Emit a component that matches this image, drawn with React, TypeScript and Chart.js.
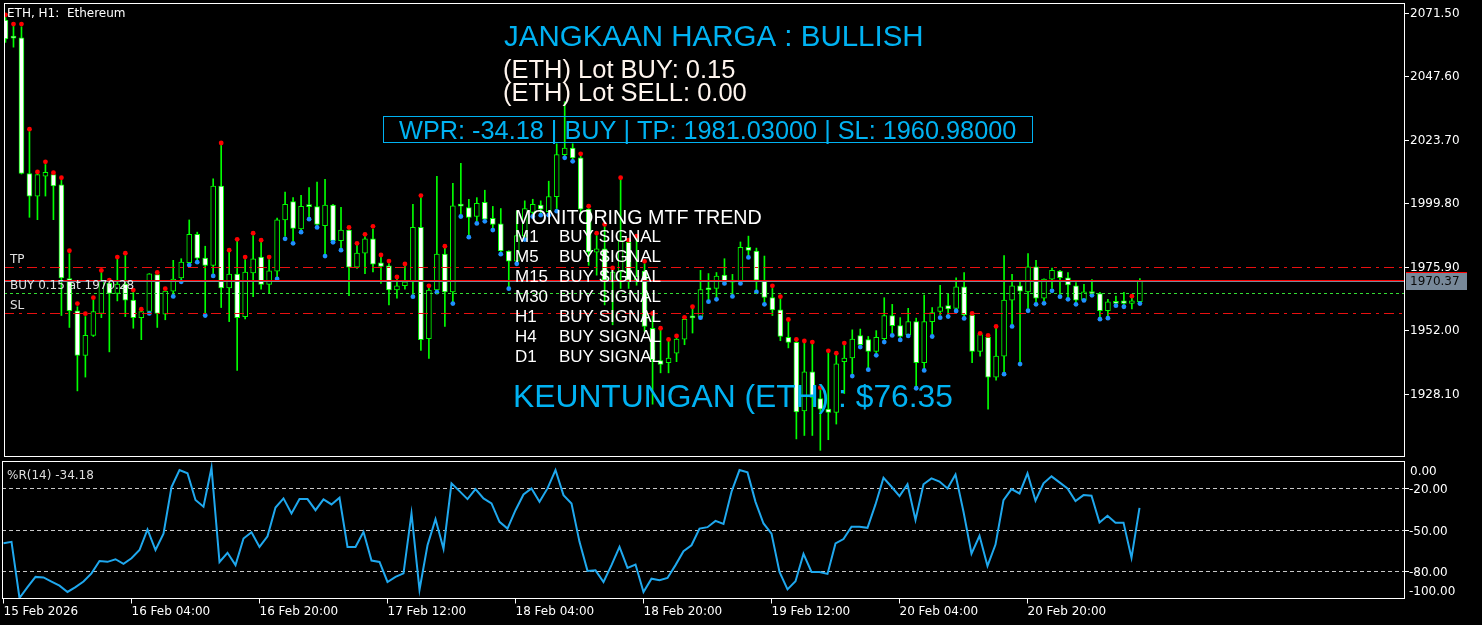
import React, { useEffect, useRef } from "react";
import { Chart, registerables } from "chart.js";
Chart.register(...registerables);

// ---------- DATA ----------
const timeTickBars = [0, 16, 32, 48, 64, 80, 96, 112, 128];
const timeTickLabels = ["15 Feb 2026", "16 Feb 04:00", "16 Feb 20:00", "17 Feb 12:00", "18 Feb 04:00", "18 Feb 20:00", "19 Feb 12:00", "20 Feb 04:00", "20 Feb 20:00"];

const opens = [
  2068.8, 2062.1, 2062.1, 2011.0, 2002.5, 2010.0, 2010.6, 2006.7, 1971.4, 1959.3,
  1942.5, 1950.0, 1958.3, 1969.6, 1965.8, 1969.3, 1963.3, 1956.7, 1959.0, 1972.9,
  1958.0, 1966.7, 1971.7, 1977.4, 1988.1, 1979.1, 1976.4, 2006.3, 1967.9, 1973.1,
  1957.1, 1973.5, 1979.5, 1969.2, 1974.2, 1993.5, 2000.4, 1990.1, 1998.6, 1998.5,
  1991.3, 1999.1, 1985.7, 1989.7, 1975.7, 1981.0, 1986.4, 1977.3, 1976.2, 1967.1,
  1968.7, 1970.2, 1990.7, 1948.8, 1967.1, 1980.6, 1966.4, 1998.8, 1998.2, 1994.8,
  2000.1, 1994.1, 1992.0, 1981.8, 1978.0, 1987.4, 1996.3, 1999.1, 1996.6, 2002.3,
  2018.1, 2020.6, 2016.9, 1997.6, 1981.4, 1982.6, 1970.2, 1973.9, 1985.1, 1970.8,
  1974.2, 1952.7, 1940.5, 1939.7, 1943.3, 1948.6, 1956.7, 1957.1, 1967.3, 1967.7,
  1972.7, 1970.2, 1970.2, 1983.2, 1981.8, 1970.8, 1964.3, 1959.6, 1949.3, 1947.4,
  1921.6, 1936.3, 1926.2, 1922.2, 1921.0, 1940.1, 1941.5, 1949.9, 1948.4, 1944.0,
  1948.8, 1957.5, 1953.7, 1950.3, 1955.2, 1939.7, 1955.2, 1959.0, 1961.2, 1960.2,
  1968.3, 1957.7, 1944.0, 1949.3, 1934.3, 1942.2, 1963.3, 1968.7, 1966.4, 1975.8,
  1964.0, 1971.2, 1974.2, 1971.7, 1968.7, 1963.3, 1966.4, 1965.8, 1959.3, 1962.7,
  1963.0, 1962.1, 1962.7,
];
const highs = [
  2069.8, 2066.7, 2066.3, 2026.8, 2010.8, 2014.4, 2010.8, 2008.4, 1980.8, 1960.8,
  1957.1, 1963.3, 1973.7, 1969.9, 1978.9, 1980.1, 1966.2, 1959.2, 1973.3, 1973.0,
  1966.8, 1978.3, 1978.9, 1993.5, 1988.9, 1983.6, 2009.0, 2021.6, 1981.4, 1985.4,
  1978.6, 1987.6, 1985.1, 1978.6, 1994.2, 2004.0, 2001.9, 2002.8, 2005.7, 2007.8,
  2008.8, 1999.4, 1998.3, 1989.8, 1983.9, 1987.2, 1990.1, 1979.4, 1977.1, 1971.2,
  1976.0, 1999.4, 2001.9, 1967.9, 2009.9, 1982.9, 2007.3, 2014.8, 2001.3, 2001.9,
  2004.7, 1998.6, 1997.8, 1981.9, 1996.9, 2000.7, 2001.3, 2000.7, 2008.1, 2022.2,
  2038.0, 2022.2, 2017.5, 1997.8, 1987.6, 1991.0, 1974.5, 2008.5, 1985.2, 1986.6,
  1977.0, 1957.5, 1951.9, 1947.8, 1949.0, 1956.2, 1960.2, 1974.5, 1973.3, 1973.7,
  1978.9, 1973.0, 1985.2, 1987.4, 1982.9, 1979.9, 1967.7, 1963.7, 1955.2, 1947.8,
  1947.1, 1946.8, 1929.3, 1943.3, 1942.5, 1946.3, 1952.1, 1952.4, 1949.6, 1951.8,
  1964.2, 1961.7, 1956.7, 1960.2, 1956.5, 1965.2, 1960.5, 1968.9, 1965.8, 1971.7,
  1973.7, 1957.8, 1950.4, 1949.4, 1952.7, 1980.1, 1973.0, 1970.4, 1980.8, 1978.3,
  1971.3, 1975.4, 1974.5, 1973.7, 1969.9, 1969.2, 1971.0, 1966.2, 1963.6, 1964.8,
  1966.2, 1964.0, 1971.4,
];
const lows = [
  2060.4, 2058.6, 2010.8, 1994.5, 1993.6, 2002.5, 1993.6, 1957.5, 1953.0, 1929.1,
  1934.3, 1949.6, 1956.7, 1943.8, 1963.0, 1957.1, 1952.7, 1948.4, 1958.9, 1953.0,
  1955.9, 1965.2, 1970.8, 1977.0, 1978.3, 1958.3, 1973.3, 1960.5, 1955.2, 1936.8,
  1956.2, 1964.6, 1967.4, 1965.8, 1972.0, 1987.4, 1985.7, 1989.5, 1994.5, 1991.3,
  1980.8, 1985.6, 1982.9, 1965.0, 1975.2, 1973.3, 1973.9, 1969.6, 1961.5, 1964.0,
  1967.4, 1965.4, 1944.3, 1941.3, 1967.0, 1953.4, 1962.7, 1995.7, 1987.9, 1993.2,
  1993.7, 1990.6, 1981.4, 1968.3, 1977.6, 1987.0, 1995.7, 1996.2, 1996.1, 1997.8,
  2017.5, 2016.2, 1996.3, 1976.4, 1972.7, 1961.5, 1954.0, 1967.7, 1967.7, 1968.9,
  1951.5, 1924.1, 1935.9, 1935.9, 1940.1, 1946.5, 1950.9, 1957.0, 1963.3, 1964.2,
  1969.9, 1965.2, 1970.1, 1980.1, 1967.1, 1962.5, 1957.5, 1948.0, 1945.3, 1911.0,
  1912.3, 1912.3, 1906.7, 1910.7, 1916.6, 1928.1, 1935.6, 1946.4, 1937.8, 1943.4,
  1948.4, 1950.9, 1949.0, 1950.2, 1931.0, 1937.6, 1950.5, 1957.7, 1957.7, 1959.9,
  1957.1, 1939.7, 1942.2, 1922.2, 1933.1, 1936.3, 1954.2, 1940.1, 1960.2, 1962.5,
  1963.0, 1967.7, 1965.4, 1964.2, 1962.5, 1964.0, 1965.7, 1956.9, 1957.4, 1961.7,
  1961.7, 1960.0, 1962.6,
];
const closes = [
  2061.7, 2062.0, 2011.0, 2002.5, 2010.6, 2011.4, 2006.3, 1971.7, 1959.3, 1942.5,
  1950.0, 1959.0, 1970.4, 1965.8, 1969.3, 1963.3, 1956.7, 1959.0, 1973.2, 1958.3,
  1966.7, 1971.2, 1977.6, 1988.1, 1979.1, 1976.4, 2006.3, 1967.9, 1973.1, 1956.7,
  1973.9, 1978.9, 1969.2, 1974.3, 1993.5, 1999.4, 1990.3, 1998.6, 1998.5, 1991.8,
  1999.1, 1985.7, 1989.7, 1975.7, 1981.0, 1986.4, 1976.8, 1976.0, 1967.1, 1968.7,
  1970.2, 1990.7, 1948.4, 1967.1, 1980.6, 1966.4, 1998.8, 1998.7, 1994.5, 1999.8,
  1993.8, 1991.8, 1981.8, 1978.0, 1987.6, 1997.8, 1999.4, 1997.6, 2002.3, 2018.1,
  2020.6, 2016.9, 1997.6, 1981.4, 1982.6, 1970.8, 1973.9, 1985.7, 1970.8, 1972.4,
  1953.4, 1940.9, 1939.1, 1941.5, 1948.6, 1956.1, 1956.6, 1967.3, 1967.2, 1972.4,
  1970.2, 1970.1, 1983.2, 1982.0, 1970.8, 1964.3, 1959.6, 1949.6, 1947.4, 1921.2,
  1936.3, 1926.6, 1922.2, 1921.0, 1939.3, 1941.5, 1948.6, 1946.5, 1944.0, 1949.3,
  1957.5, 1953.7, 1949.6, 1955.2, 1939.7, 1955.2, 1958.6, 1960.8, 1960.0, 1968.3,
  1957.7, 1944.0, 1950.3, 1934.3, 1942.2, 1963.3, 1968.7, 1966.7, 1975.8, 1964.0,
  1971.2, 1974.5, 1971.8, 1969.0, 1963.3, 1966.4, 1965.8, 1959.3, 1962.7, 1962.1,
  1962.1, 1963.0, 1970.37,
];
const sarDots = [
  2070.8, 2067.3, 2067.3, 2027.7, 2011.6, 2015.4, 2011.3, 2009.4, 1981.9, 1962.0,
  1958.2, 1964.2, 1974.5, 1970.8, 1979.5, 1981.0, 1967.1, 1959.9, 1958.3, 1973.7,
  1967.6, 1964.7, 1970.2, 1976.5, 1977.6, 1957.5, 1972.4, 2022.5, 1982.1, 1986.2,
  1979.5, 1988.5, 1985.9, 1979.5, 1971.3, 1986.4, 1984.7, 1988.9, 1993.8, 1990.7,
  1979.9, 1985.1, 1982.1, 1990.7, 1984.7, 1988.1, 1991.1, 1980.3, 1978.0, 1972.0,
  1976.9, 1964.6, 2002.7, 1968.7, 1966.3, 1983.6, 1962.0, 1994.8, 1987.0, 1992.2,
  1993.0, 1989.7, 1980.6, 1967.6, 1977.0, 1986.1, 1994.8, 1995.3, 1995.3, 1996.8,
  2016.9, 2015.6, 2018.4, 1998.7, 1988.5, 1991.8, 1975.4, 2009.4, 1985.9, 1987.4,
  1977.9, 1958.3, 1952.7, 1948.5, 1949.8, 1956.8, 1960.8, 1956.7, 1962.7, 1963.6,
  1969.6, 1964.7, 1969.6, 1979.4, 1966.4, 1961.7, 1968.7, 1964.6, 1956.0, 1948.5,
  1947.9, 1947.5, 1930.3, 1944.2, 1943.3, 1947.1, 1934.7, 1945.6, 1937.1, 1942.5,
  1947.5, 1950.0, 1948.3, 1949.8, 1930.1, 1936.8, 1949.6, 1956.7, 1957.1, 1959.2,
  1956.4, 1958.3, 1950.8, 1950.0, 1953.4, 1935.4, 1953.4, 1939.2, 1959.3, 1961.7,
  1962.1, 1966.8, 1964.6, 1963.6, 1961.7, 1963.2, 1965.1, 1956.1, 1956.5, 1961.2,
  1960.8, 1964.8, 1962.0,
];
const wprValues = [
  -60, -59, -100, -92, -84.6, -85, -88, -91, -95.6, -92,
  -88, -82, -73, -73.6, -71.7, -75, -71, -65, -50, -65,
  -53, -19, -6.6, -9, -28.5, -33.4, -4.9, -73.7, -67, -76,
  -56.6, -52, -62.7, -55, -34, -27.3, -38.3, -27.8, -27.8, -35.9,
  -28, -31.7, -26.8, -62.7, -62.7, -51.7, -72.7, -73.7, -88.3, -84.6,
  -82, -38.3, -94, -61.5, -42.4, -64, -16.3, -22, -27.8, -20.5,
  -27.3, -31, -44.4, -49.3, -35.9, -24.4, -20, -29.8, -20, -6.6,
  -24.9, -31, -59, -80.2, -79.8, -88.3, -76, -62.7, -78, -75.6,
  -95.6, -85.9, -87, -85.4, -76, -65.9, -61.5, -49.3, -48.3, -43.7,
  -46, -22.4, -6.6, -8.3, -29.8, -45.6, -53, -81, -93.7, -87.8,
  -67.8, -81, -81, -82.4, -60.2, -57, -48, -48, -48.8, -31.7,
  -12.2, -18.8, -25.6, -17, -43, -17, -12.7, -15, -20, -9.8,
  -37, -67.6, -54.6, -76.6, -61, -28.5, -20.5, -23.7, -9, -29,
  -16.3, -11.2, -15.6, -20, -29.3, -24.9, -25.4, -44.9, -40, -45,
  -45, -70.7, -34.18,
];

const priceTicks = [2071.5, 2047.6, 2023.7, 1999.8, 1975.9, 1952.0, 1928.1];
const priceMin = 1904.57;
const priceMax = 2074.86;
const wprTicks = [0, -20, -50, -80, -100];
const wprLevels = [-20, -50, -80];
const barMin = -0.1875;
const barMax = 175.0625;

const tpLevel = 1975.6;
const entryLevel = 1965.8;
const slLevel = 1958.3;
const askPrice = 1970.95;
const bidPrice = 1970.37;

const symbolLabel = "ETH, H1:  Ethereum";
const wprLabel = "%R(14) -34.18";
const tpText = "TP";
const entryText = "BUY 0.15 at 1970.28";
const slText = "SL";
const headline = "JANGKAAN HARGA : BULLISH";
const lotBuyText = "(ETH) Lot BUY: 0.15";
const lotSellText = "(ETH) Lot SELL: 0.00";
const signalBoxText = "WPR: -34.18 | BUY | TP: 1981.03000 | SL: 1960.98000";
const mtfTitle = "MONITORING MTF TREND";
const mtfFrames = ["M1", "M5", "M15", "M30", "H1", "H4", "D1"];
const mtfSignals = ["BUY SIGNAL", "BUY SIGNAL", "BUY SIGNAL", "BUY SIGNAL", "BUY SIGNAL", "BUY SIGNAL", "BUY SIGNAL"];
const profitText = "KEUNTUNGAN (ETH) : $76.35";

// ---------- STYLE ----------
const UI_FONT = '"DejaVu Sans", sans-serif';
const TXT_FONT = '"Liberation Sans", Arial, sans-serif';
const CYAN = "#00B2F2";
const LIME = "#00FF00";

const topOverlay = {
  id: "topOverlay",
  afterDatasetsDraw(chart: any) {
    const { ctx, chartArea: a } = chart;
    const y = chart.scales.y;
    ctx.save();
    const hline = (v: number, color: string, dash: number[]) => {
      const py = Math.round(y.getPixelForValue(v)) + 0.5;
      ctx.beginPath();
      ctx.setLineDash(dash);
      ctx.strokeStyle = color;
      ctx.lineWidth = 1;
      ctx.moveTo(a.left, py);
      ctx.lineTo(a.right, py);
      ctx.stroke();
    };
    hline(tpLevel, "#E81010", [10, 5, 3, 5]);
    hline(entryLevel, "#33DD33", [3, 3]);
    hline(slLevel, "#E81010", [10, 5, 3, 5]);
    hline(askPrice, "#FF0000", []);
    hline(bidPrice, "#778899", []);
    ctx.setLineDash([]);

    ctx.font = `12px ${UI_FONT}`;
    ctx.fillStyle = "#E0E0E0";
    ctx.textBaseline = "alphabetic";
    ctx.textAlign = "left";
    ctx.fillText(tpText, 10, Math.round(y.getPixelForValue(tpLevel)) - 4);
    ctx.fillText(entryText, 10, Math.round(y.getPixelForValue(entryLevel)) - 4);
    ctx.fillText(slText, 10, Math.round(y.getPixelForValue(slLevel)) - 4);
    ctx.restore();
  },
  afterDraw(chart: any) {
    const { ctx, chartArea: a } = chart;
    const y = chart.scales.y;
    ctx.save();
    ctx.strokeStyle = "#FFFFFF";
    ctx.lineWidth = 1;
    ctx.strokeRect(a.left + 0.5, a.top - 0.5, a.right - a.left, a.bottom - a.top + 1);

    ctx.font = `12px ${UI_FONT}`;
    ctx.textBaseline = "middle";
    ctx.textAlign = "left";
    ctx.fillStyle = "#FFFFFF";
    priceTicks.forEach((v) => {
      const py = Math.round(y.getPixelForValue(v)) + 0.5;
      ctx.beginPath();
      ctx.moveTo(a.right, py);
      ctx.lineTo(a.right + 5, py);
      ctx.stroke();
      ctx.fillText(v.toFixed(2), a.right + 6, py);
    });
    const bp = Math.round(y.getPixelForValue(bidPrice));
    ctx.fillStyle = "#778899";
    ctx.fillRect(a.right + 2, bp - 8, 61, 17);
    ctx.fillStyle = "#FF0000";
    ctx.fillRect(a.right + 2, bp - 9, 61, 1);
    ctx.fillStyle = "#0A0A0A";
    ctx.fillText(bidPrice.toFixed(2), a.right + 6, bp + 0.5);

    ctx.textBaseline = "alphabetic";
    ctx.fillStyle = "#FFFFFF";
    ctx.fillText(symbolLabel, 7, 17);

    ctx.fillStyle = CYAN;
    ctx.font = `29.5px ${TXT_FONT}`;
    ctx.fillText(headline, 504, 46);
    ctx.fillStyle = "#FFF5EE";
    ctx.font = `25.5px ${TXT_FONT}`;
    ctx.fillText(lotBuyText, 503, 78);
    ctx.fillText(lotSellText, 503, 101);

    ctx.strokeStyle = CYAN;
    ctx.strokeRect(383.5, 116.5, 649, 26);
    ctx.fillStyle = CYAN;
    ctx.font = `25.3px ${TXT_FONT}`;
    ctx.fillText(signalBoxText, 399, 138.5);

    ctx.fillStyle = "#FFFFFF";
    ctx.font = `19.7px ${TXT_FONT}`;
    ctx.fillText(mtfTitle, 515, 224);
    ctx.font = `17px ${TXT_FONT}`;
    mtfFrames.forEach((f, k) => {
      ctx.fillText(f, 515, 242 + 20 * k);
      ctx.fillText(mtfSignals[k], 559, 242 + 20 * k);
    });

    ctx.fillStyle = CYAN;
    ctx.font = `31.8px ${TXT_FONT}`;
    ctx.fillText(profitText, 513, 407);
    ctx.restore();
  },
};

const bottomOverlay = {
  id: "bottomOverlay",
  beforeDatasetsDraw(chart: any) {
    const { ctx, chartArea: a } = chart;
    const y = chart.scales.y;
    ctx.save();
    ctx.strokeStyle = "#C8C8C8";
    ctx.lineWidth = 1;
    ctx.setLineDash([4, 3]);
    wprLevels.forEach((v) => {
      const py = Math.round(y.getPixelForValue(v)) + 0.5;
      ctx.beginPath();
      ctx.moveTo(a.left, py);
      ctx.lineTo(a.right, py);
      ctx.stroke();
    });
    ctx.restore();
  },
  afterDraw(chart: any) {
    const { ctx, chartArea: a } = chart;
    const y = chart.scales.y;
    const x = chart.scales.x;
    ctx.save();
    ctx.strokeStyle = "#FFFFFF";
    ctx.lineWidth = 1;
    ctx.strokeRect(a.left + 0.5, a.top + 0.5, a.right - a.left, a.bottom - a.top);

    ctx.font = `12px ${UI_FONT}`;
    ctx.fillStyle = "#FFFFFF";
    ctx.textAlign = "left";
    ctx.textBaseline = "middle";
    wprTicks.forEach((v) => {
      const py = Math.round(y.getPixelForValue(v)) + 0.5;
      if (wprLevels.includes(v)) {
        ctx.beginPath();
        ctx.moveTo(a.right, py);
        ctx.lineTo(a.right + 5, py);
        ctx.stroke();
      }
      const ly = Math.min(Math.max(py + 1.5, a.top + 10.5), a.bottom - 6.5);
      ctx.fillText(v.toFixed(2), a.right + (v === 0 ? 6 : 5), ly);
    });

    ctx.textBaseline = "alphabetic";
    timeTickBars.forEach((b, k) => {
      const px = Math.floor(x.getPixelForValue(b)) + 0.5;
      ctx.beginPath();
      ctx.moveTo(px, a.bottom + 0.5);
      ctx.lineTo(px, a.bottom + 5.5);
      ctx.stroke();
      ctx.fillText(timeTickLabels[k], px, a.bottom + 17);
    });

    ctx.fillStyle = "#DDDDDD";
    ctx.fillText(wprLabel, 7, 19);
    ctx.restore();
  },
};

export default function App() {
  const topRef = useRef<HTMLCanvasElement>(null);
  const botRef = useRef<HTMLCanvasElement>(null);

  useEffect(() => {
    document.body.style.margin = "0";
    document.body.style.background = "#000";
    const xScale = { type: "linear", min: barMin, max: barMax, offset: false, display: false };

    const top = new Chart(topRef.current as HTMLCanvasElement, {
      type: "bar",
      data: {
        datasets: [
          {
            type: "line",
            data: sarDots.map((v, i) => ({ x: i, y: v })),
            showLine: false,
            pointRadius: 2.4,
            pointBorderWidth: 0,
            pointBackgroundColor: (c: any) => (sarDots[c.dataIndex] > closes[c.dataIndex] ? "#FF0000" : "#1E90FF"),
            order: 0,
          } as any,
          {
            type: "bar",
            data: opens.map((o, i) => ({ x: i, y: [o, closes[i]] })),
            backgroundColor: (c: any) => (closes[c.dataIndex] < opens[c.dataIndex] ? "#FFFFFF" : "#000000"),
            borderColor: LIME,
            borderWidth: 1,
            borderSkipped: false,
            barThickness: 5,
            minBarLength: 2,
            grouped: false,
            order: 1,
          } as any,
          {
            type: "bar",
            data: lows.map((l, i) => ({ x: i, y: [l, highs[i]] })),
            backgroundColor: LIME,
            borderWidth: 0,
            barThickness: 1,
            grouped: false,
            order: 2,
          } as any,
        ],
      },
      options: {
        animation: false,
        responsive: false,
        devicePixelRatio: 1,
        events: [],
        layout: { padding: { left: 2, top: 3, right: 78, bottom: 1 } },
        plugins: { legend: { display: false }, tooltip: { enabled: false } },
        scales: {
          x: xScale as any,
          y: { type: "linear", min: priceMin, max: priceMax, display: false },
        },
      },
      plugins: [topOverlay],
    } as any);

    const bottom = new Chart(botRef.current as HTMLCanvasElement, {
      type: "line",
      data: {
        datasets: [
          {
            data: wprValues.map((v, i) => ({ x: i, y: v })),
            borderColor: "#1FA8EE",
            borderWidth: 2,
            pointRadius: 0,
            tension: 0,
          },
        ],
      },
      options: {
        animation: false,
        responsive: false,
        devicePixelRatio: 1,
        events: [],
        layout: { padding: { left: 2, top: 1, right: 78, bottom: 27 } },
        plugins: { legend: { display: false }, tooltip: { enabled: false } },
        scales: {
          x: xScale as any,
          y: { type: "linear", min: -100, max: 0, display: false },
        },
      },
      plugins: [bottomOverlay],
    } as any);

    return () => {
      top.destroy();
      bottom.destroy();
    };
  }, []);

  return (
    <div style={{ position: "fixed", left: 0, top: 0, width: 1482, height: 625, background: "#000", overflow: "hidden" }}>
      <canvas ref={topRef} width={1482} height={460} style={{ position: "absolute", left: 0, top: 0, width: 1482, height: 460 }} />
      <canvas ref={botRef} width={1482} height={165} style={{ position: "absolute", left: 0, top: 460, width: 1482, height: 165 }} />
    </div>
  );
}
